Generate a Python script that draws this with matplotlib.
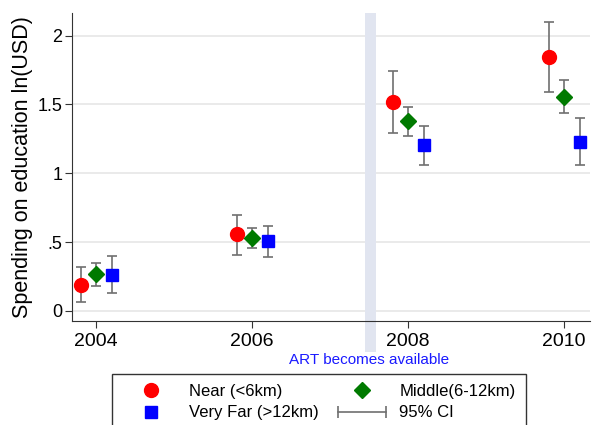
import matplotlib
matplotlib.use("Agg")
import matplotlib.pyplot as plt
from matplotlib.lines import Line2D
from matplotlib.legend_handler import HandlerLine2D
import numpy as np

plt.rcParams['font.family'] = ['Liberation Sans', 'DejaVu Sans']

years = np.array([2004, 2006, 2008, 2010])

near = [0.19, 0.557, 1.515, 1.845]
near_lo = [0.063, 0.41, 1.295, 1.593]
near_hi = [0.32, 0.70, 1.74, 2.097]

middle = [0.27, 0.53, 1.378, 1.556]
middle_lo = [0.18, 0.46, 1.27, 1.438]
middle_hi = [0.35, 0.60, 1.484, 1.678]

far = [0.26, 0.506, 1.203, 1.23]
far_lo = [0.13, 0.39, 1.062, 1.062]
far_hi = [0.40, 0.62, 1.343, 1.40]

series = [
    ("Near (<6km)", near, near_lo, near_hi, -0.2, 'o', '#ff0000', 10),
    ("Middle(6-12km)", middle, middle_lo, middle_hi, 0.0, 'D', '#007a00', 8),
    ("Very Far (>12km)", far, far_lo, far_hi, 0.2, 's', '#0000ff', 8.5),
]

fig = plt.figure(figsize=(5.92, 4.25), dpi=100)
ax = fig.add_axes([0.1216, 0.2447, 0.875, 0.7247])

ax.axvspan(2007.44, 2007.59, ymin=-0.10, ymax=1, color='#e1e5f0', lw=0, clip_on=False, zorder=1)
ax.grid(axis='y', color='#e6e6e6', lw=1.2, zorder=0)
ax.set_axisbelow(True)

handles = {}
for label, vals, lo, hi, off, mk, col, ms in series:
    x = years + off
    vals = np.array(vals)
    yerr = np.array([vals - np.array(lo), np.array(hi) - vals])
    ax.errorbar(x, vals, yerr=yerr, fmt='none', ecolor='#707070', elinewidth=1.2,
                capsize=3.5, capthick=1.2, zorder=3)
    ax.plot(x, vals, ls='none', marker=mk, color=col, markersize=ms, zorder=4)
    handles[label] = Line2D([], [], ls='none', marker=mk, color=col, markersize=ms)

ax.set_xlim(2003.69, 2010.33)
ax.set_ylim(-0.073, 2.164)
ax.set_xticks(years)
ax.set_xticklabels([str(y) for y in years], fontsize=14)
ax.set_yticks([0, 0.5, 1, 1.5, 2])
ax.set_yticklabels(["0", ".5", "1", "1.5", "2"], fontsize=13)
ax.tick_params(direction='out', length=5, color='#333333')
ax.tick_params(axis='y', pad=2)
ax.set_ylabel("Spending on education ln(USD)", fontsize=15.5, labelpad=3)

for s in ['top', 'right']:
    ax.spines[s].set_visible(False)
for s in ['left', 'bottom']:
    ax.spines[s].set_color('#333333')

ax.text(2007.5, -0.127, "ART becomes available", transform=ax.get_xaxis_transform(),
        ha='center', va='center', color='#1a1aff', fontsize=11)

ci = Line2D([], [], color='#707070', lw=1.2, marker='|', markersize=8, markeredgewidth=1.2)
leg_handles = [handles["Near (<6km)"], handles["Very Far (>12km)"], handles["Middle(6-12km)"], ci]
leg_labels = ["Near (<6km)", "Very Far (>12km)", "Middle(6-12km)", "95% CI"]
leg = fig.legend(leg_handles, leg_labels, loc='upper left', bbox_to_anchor=(112 / 592, 1 - 374 / 425),
                 ncol=2, fontsize=12, frameon=True, fancybox=False, edgecolor='black',
                 handlelength=3.5, handletextpad=0.5, columnspacing=0.85, labelspacing=0.38,
                 borderpad=0.6, borderaxespad=0, handler_map={ci: HandlerLine2D(numpoints=2)})
leg.get_frame().set_linewidth(1.0)

fig.savefig("out.png", dpi=100)
